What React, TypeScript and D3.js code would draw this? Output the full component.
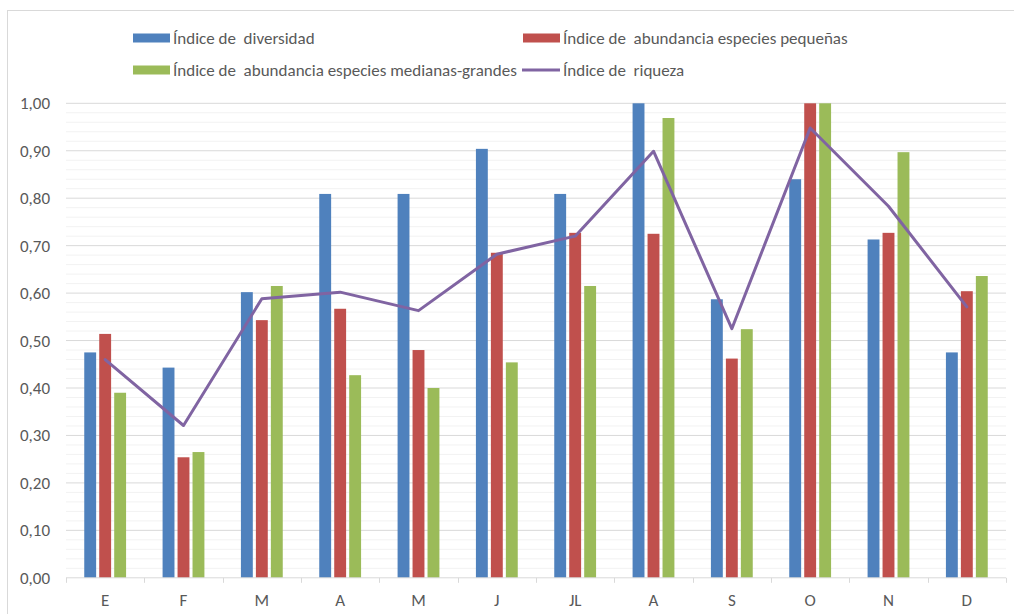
import React from "react";
import * as d3 from "d3";

const months = ["E", "F", "M", "A", "M", "J", "JL", "A", "S", "O", "N", "D"];
const diversidad = [0.475, 0.443, 0.602, 0.809, 0.809, 0.904, 0.809, 1.0, 0.587, 0.84, 0.713, 0.475];
const pequenas = [0.514, 0.254, 0.543, 0.567, 0.48, 0.685, 0.727, 0.725, 0.462, 1.0, 0.727, 0.604];
const medianas = [0.39, 0.265, 0.615, 0.427, 0.4, 0.454, 0.615, 0.969, 0.524, 1.0, 0.897, 0.636];
const riqueza = [0.46, 0.321, 0.588, 0.602, 0.563, 0.682, 0.72, 0.899, 0.525, 0.948, 0.783, 0.571];
const yTicks = [0, 0.1, 0.2, 0.3, 0.4, 0.5, 0.6, 0.7, 0.8, 0.9, 1.0];

const barSeries = [
  { key: "div", name: "Índice de  diversidad", color: "#4f81bd", values: diversidad },
  { key: "peq", name: "Índice de  abundancia especies pequeñas", color: "#c0504d", values: pequenas },
  { key: "med", name: "Índice de  abundancia especies medianas-grandes", color: "#9bbb59", values: medianas },
];
const lineSeries = { name: "Índice de  riqueza", color: "#8064a2", values: riqueza };

const W = 1014;
const H = 614;
const left = 66;
const right = 1006;
const top = 103.3;
const bottom = 577.8;

export default function App() {
  const idx = months.map((_, i) => String(i));
  const x = d3.scaleBand<string>().domain(idx).range([left, right]).padding(0);
  const x1 = d3.scaleBand<string>().domain(barSeries.map((s) => s.key)).range([0, 48]).padding(0.206);
  const y = d3.scaleLinear().domain([0, 1]).range([bottom, top]);
  const minor = d3.range(0, 1.0001, 0.02).filter((v) => Math.abs(Math.round(v * 10) - v * 10) > 1e-6);
  const line = d3
    .line<number>()
    .x((_, i) => (x(String(i)) as number) + x.bandwidth() / 2)
    .y((d) => y(d));
  const fmt = (v: number) => v.toFixed(2).replace(".", ",");
  const font = "Carlito, Calibri, 'Liberation Sans', Arial, sans-serif";
  const fs = 17;
  const legendItems = [
    { s: barSeries[0], lx: 133, ly: 38 },
    { s: barSeries[1], lx: 523, ly: 38 },
    { s: barSeries[2], lx: 133, ly: 70 },
  ];
  return (
    <svg
      width={W}
      height={H}
      style={{ position: "absolute", left: 0, top: 0, background: "#fff" }}
      fontFamily={font}
    >
      <rect x={7.5} y={10.5} width={W + 10} height={H + 10} fill="#fff" stroke="#d9d9d9" />
      {minor.map((v, i) => (
        <line key={"m" + i} x1={left} x2={right} y1={y(v)} y2={y(v)} stroke="#f2f2f2" strokeWidth={1} />
      ))}
      {yTicks.map((v, i) => (
        <g key={"t" + i}>
          {v > 0 && <line x1={left} x2={right} y1={y(v)} y2={y(v)} stroke="#d9d9d9" strokeWidth={1} />}
          <text x={50} y={y(v)} dy="0.35em" textAnchor="end" fontSize={fs} fill="#595959">
            {fmt(v)}
          </text>
        </g>
      ))}
      {months.map((m, i) => (
        <g key={"c" + i}>
          {barSeries.map((s) => (
            <rect
              key={s.key}
              x={(x(String(i)) as number) + x.bandwidth() / 2 - 24 + (x1(s.key) as number)}
              width={x1.bandwidth()}
              y={y(s.values[i])}
              height={y(0) - y(s.values[i])}
              fill={s.color}
            />
          ))}
        </g>
      ))}
      <line x1={left} x2={right} y1={bottom} y2={bottom} stroke="#d9d9d9" strokeWidth={1} />
      {d3.range(13).map((i) => {
        const xx = Math.round(left + i * x.step()) + 0.5;
        return <line key={"k" + i} x1={xx} x2={xx} y1={bottom} y2={bottom + 5} stroke="#d9d9d9" />;
      })}
      {months.map((m, i) => (
        <text
          key={"l" + i}
          x={(x(String(i)) as number) + x.bandwidth() / 2}
          y={600}
          dy="0.35em"
          textAnchor="middle"
          fontSize={fs}
          fill="#595959"
        >
          {m}
        </text>
      ))}
      <path
        d={line(lineSeries.values) || ""}
        fill="none"
        stroke={lineSeries.color}
        strokeWidth={3}
        strokeLinejoin="round"
        strokeLinecap="round"
      />
      {legendItems.map((it, i) => (
        <g key={"lg" + i}>
          <rect x={it.lx} y={it.ly - 4.5} width={37} height={9} fill={it.s.color} />
          <text x={it.lx + 40} y={it.ly} dy="0.35em" fontSize={fs} fill="#595959" style={{ whiteSpace: "pre" }}>
            {it.s.name}
          </text>
        </g>
      ))}
      <g>
        <line x1={522} x2={560} y1={70} y2={70} stroke={lineSeries.color} strokeWidth={3} />
        <text x={563} y={70} dy="0.35em" fontSize={fs} fill="#595959" style={{ whiteSpace: "pre" }}>
          {lineSeries.name}
        </text>
      </g>
    </svg>
  );
}
